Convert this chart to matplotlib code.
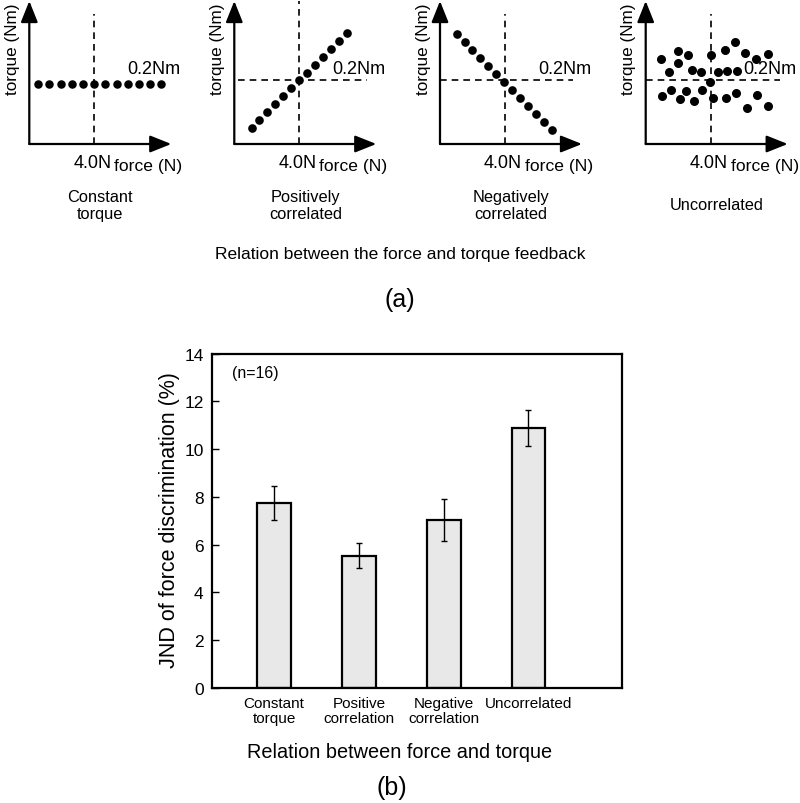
import matplotlib
matplotlib.use("Agg")
import matplotlib.pyplot as plt

plt.rcParams['font.family'] = ['Liberation Sans', 'DejaVu Sans']

# ---- (a) schematic data: force (N) vs torque (Nm) ----
const_force = [0.55, 1.24, 1.93, 2.62, 3.31, 4.0, 4.69, 5.38, 6.07, 6.76, 7.45, 8.14]
const_torque = [0.19] * 12

pos_force = [1.06, 1.55, 2.04, 2.53, 3.02, 3.51, 4.0, 4.49, 4.98, 5.47, 5.96, 6.45, 6.94]
pos_torque = [0.05, 0.075, 0.10, 0.125, 0.15, 0.175, 0.2, 0.225, 0.25, 0.275, 0.30, 0.325, 0.35]

neg_force = [1.03, 1.52, 2.0, 2.48, 2.97, 3.46, 3.94, 4.43, 4.92, 5.41, 5.9, 6.39, 6.88]
neg_torque = [0.345, 0.32, 0.295, 0.27, 0.245, 0.22, 0.195, 0.17, 0.145, 0.12, 0.095, 0.07, 0.045]

unc_force = [0.94, 2.01, 2.59, 2.01, 1.45, 2.83, 3.39, 4.02, 4.89, 5.50, 6.11, 6.80, 7.55,
             4.44, 5.03, 5.61, 3.96, 1.02, 1.56, 2.11, 2.48, 2.99, 3.45, 4.17, 4.93, 5.55,
             6.22, 6.88, 7.52]
unc_torque = [0.267, 0.294, 0.280, 0.255, 0.226, 0.233, 0.228, 0.280, 0.297, 0.320, 0.285,
              0.267, 0.283, 0.228, 0.231, 0.230, 0.196, 0.152, 0.171, 0.142, 0.166, 0.136,
              0.171, 0.145, 0.144, 0.160, 0.112, 0.154, 0.121]

panel_captions = ['Constant\ntorque', 'Positively\ncorrelated', 'Negatively\ncorrelated', 'Uncorrelated']
ref_force = 4.0
ref_torque = 0.2

# ---- (b) bar chart data ----
relations = ['Constant\ntorque', 'Positive\ncorrelation', 'Negative\ncorrelation', 'Uncorrelated']
jnd = [7.75, 5.54, 7.05, 10.89]
jnd_err = [0.73, 0.53, 0.88, 0.77]

W, H = 800, 804


def fx(x):
    return x / W


def fy(y):
    return 1 - y / H


fig = plt.figure(figsize=(W / 100, H / 100), dpi=100)

# ---- (a) four mini diagrams ----
panels = [
    (const_force, const_torque, 29.3, 0.41, None, 26),
    (pos_force, pos_torque, 234.3, 0.45, (0.23, 8.17), 27),
    (neg_force, neg_torque, 440.0, 0.41, (0.0, 8.18), 27),
    (unc_force, unc_torque, 645.7, 0.41, (0.0, 8.3), 30),
]
xmax, ymax = 8.75, 0.45
pw, ph = 142, 143

for i, (fvals, tvals, left, vtop, hspan, msize) in enumerate(panels):
    ax = fig.add_axes([fx(left), fy(145), pw / W, ph / H])
    ax.set_xlim(0, xmax)
    ax.set_ylim(0, ymax)
    ax.axis('off')
    arrow = dict(arrowstyle='-|>,head_length=0.65,head_width=0.26', lw=1.6,
                 color='k', shrinkA=0, shrinkB=0, mutation_scale=20)
    ax.annotate('', xy=(1.0, 0), xytext=(0, 0), xycoords='axes fraction', arrowprops=arrow)
    ax.annotate('', xy=(0, 1.0), xytext=(0, 0), xycoords='axes fraction', arrowprops=arrow)
    ax.plot([ref_force, ref_force], [0, vtop], ls=(0, (4, 3)), color='k', lw=1.2)
    if hspan is not None:
        ax.plot(hspan, [ref_torque, ref_torque], ls=(0, (4, 3)), color='k', lw=1.2)
    ax.scatter(fvals, tvals, s=msize, color='k', zorder=3, clip_on=False)

    fig.text(fx(left - 17), fy(49), 'torque (Nm)', rotation=90, ha='center', va='center', fontsize=12.3)
    xdash = left + ref_force * pw / xmax
    fig.text(fx(xdash - 2), fy(163), '4.0N', ha='center', va='center', fontsize=13)
    fig.text(fx(xdash + 20), fy(166), 'force (N)', ha='left', va='center', fontsize=12.6)
    fig.text(fx(xdash + 33), fy(70), '0.2Nm', ha='left', va='center', fontsize=13)
    fig.text(fx(left + 71), fy(206), panel_captions[i], ha='center', va='center', fontsize=11.8,
             linespacing=1.2)

fig.text(0.5, fy(254), 'Relation between the force and torque feedback', ha='center', va='center',
         fontsize=12.5)
fig.text(0.5, fy(300), '(a)', ha='center', va='center', fontsize=18)

# ---- (b) bar chart ----
ax = fig.add_axes([fx(212), fy(689), (621.7 - 212) / W, (689 - 354.7) / H])
xpos = list(range(len(relations)))
ax.bar(xpos, jnd, width=0.40, color='#e8e8e8', edgecolor='k', linewidth=1.6, zorder=2)
ax.errorbar(xpos, jnd, yerr=jnd_err, fmt='none', ecolor='k', elinewidth=1.0, capsize=2.5,
            capthick=1.0, zorder=3)
ax.set_xlim(-0.731, 4.099)
ax.set_ylim(0, 14)
ax.set_yticks(range(0, 15, 2))
ax.set_xticks(xpos)
ax.set_xticklabels(relations, fontsize=11, linespacing=1.1)
ax.tick_params(axis='x', length=0, pad=6)
ax.tick_params(axis='y', direction='in', length=5, width=1.0, labelsize=12.5, pad=6)
for sp in ax.spines.values():
    sp.set_linewidth(1.6)
ax.text(0.05, 0.945, '(n=16)', transform=ax.transAxes, ha='left', va='center', fontsize=11.5)

fig.text(fx(170), fy(520), 'JND of force discrimination (%)', rotation=90, ha='center', va='center',
         fontsize=15.5)
fig.text(0.5, fy(753), 'Relation between force and torque', ha='center', va='center', fontsize=14.3)
fig.text(fx(392), fy(788), '(b)', ha='center', va='center', fontsize=18)

fig.savefig('out.png', dpi=100)
